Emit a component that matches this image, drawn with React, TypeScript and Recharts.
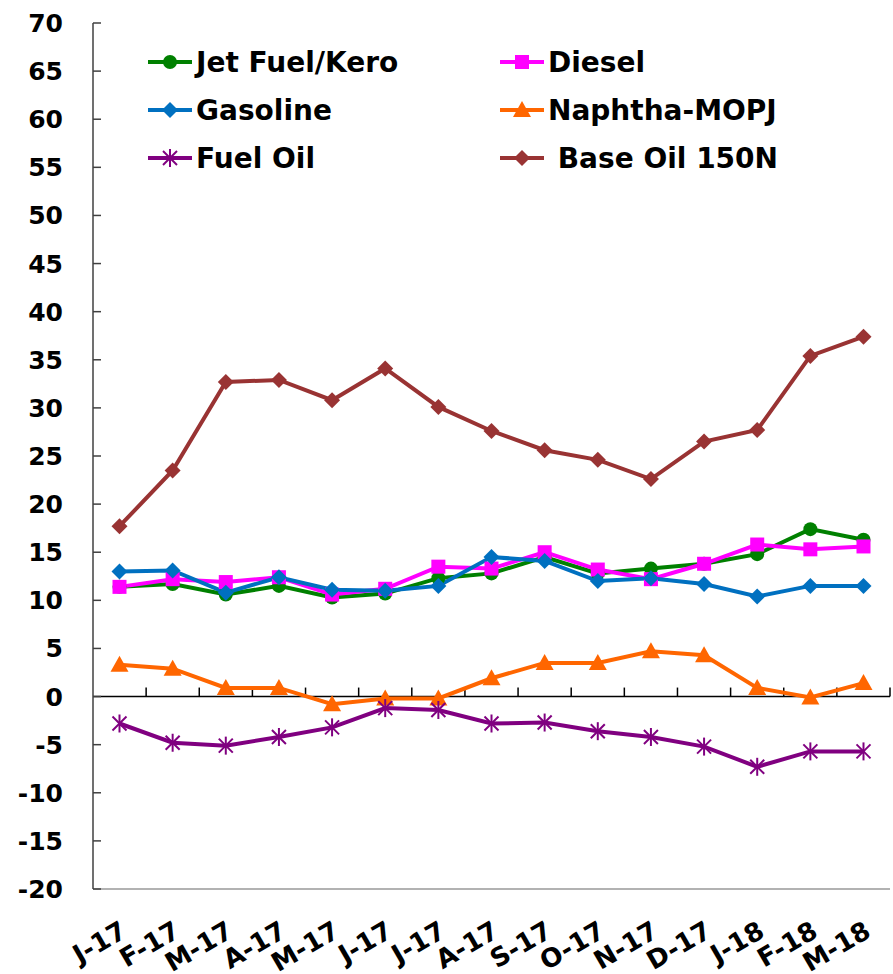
import React from "react";
import { LineChart, Line, XAxis, YAxis, ReferenceLine, Legend } from "recharts";

const months = ["J-17", "F-17", "M-17", "A-17", "M-17", "J-17", "J-17", "A-17", "S-17", "O-17", "N-17", "D-17", "J-18", "F-18", "M-18"];
const jetFuel = [11.4, 11.7, 10.6, 11.5, 10.3, 10.7, 12.3, 12.8, 14.5, 12.8, 13.3, 13.8, 14.8, 17.4, 16.3];
const diesel = [11.4, 12.2, 11.9, 12.4, 10.6, 11.2, 13.5, 13.3, 15.0, 13.2, 12.2, 13.8, 15.8, 15.3, 15.6];
const gasoline = [13.0, 13.1, 10.8, 12.4, 11.1, 11.0, 11.5, 14.5, 14.1, 12.0, 12.3, 11.7, 10.4, 11.5, 11.5];
const naphtha = [3.3, 2.9, 0.9, 0.9, -0.8, -0.2, -0.2, 1.9, 3.5, 3.5, 4.7, 4.3, 0.9, -0.1, 1.4];
const fuelOil = [-2.8, -4.8, -5.1, -4.2, -3.2, -1.2, -1.4, -2.8, -2.7, -3.6, -4.2, -5.2, -7.3, -5.7, -5.7];
const baseOil = [17.7, 23.5, 32.7, 32.9, 30.8, 34.1, 30.1, 27.6, 25.6, 24.6, 22.6, 26.5, 27.7, 35.4, 37.4];
const yTicks = [-20, -15, -10, -5, 0, 5, 10, 15, 20, 25, 30, 35, 40, 45, 50, 55, 60, 65, 70];

const data = months.map((m, i) => ({
  idx: i,
  jet: jetFuel[i],
  diesel: diesel[i],
  gasoline: gasoline[i],
  naphtha: naphtha[i],
  fuelOil: fuelOil[i],
  baseOil: baseOil[i],
}));

const FONT = "'DejaVu Sans', Verdana, sans-serif";

type Kind = "circle" | "square" | "diamond" | "triangle" | "star";

const Marker = ({ kind, cx, cy, color }: { kind: Kind; cx: number; cy: number; color: string }) => {
  if (kind === "circle") return <circle cx={cx} cy={cy} r={7} fill={color} />;
  if (kind === "square") return <rect x={cx - 7} y={cy - 7} width={14} height={14} fill={color} />;
  if (kind === "diamond")
    return <polygon points={`${cx},${cy - 8} ${cx + 8},${cy} ${cx},${cy + 8} ${cx - 8},${cy}`} fill={color} />;
  if (kind === "triangle")
    return <polygon points={`${cx},${cy - 9} ${cx + 9},${cy + 7} ${cx - 9},${cy + 7}`} fill={color} />;
  return (
    <g stroke={color} strokeWidth={2}>
      <line x1={cx - 7} y1={cy - 7} x2={cx + 7} y2={cy + 7} />
      <line x1={cx - 7} y1={cy + 7} x2={cx + 7} y2={cy - 7} />
      <line x1={cx} y1={cy - 9} x2={cx} y2={cy + 9} />
    </g>
  );
};

const series: { key: string; name: string; color: string; kind: Kind }[] = [
  { key: "jet", name: "Jet Fuel/Kero", color: "#008000", kind: "circle" },
  { key: "diesel", name: "Diesel", color: "#FF00FF", kind: "square" },
  { key: "gasoline", name: "Gasoline", color: "#0070C0", kind: "diamond" },
  { key: "naphtha", name: "Naphtha-MOPJ", color: "#FF6600", kind: "triangle" },
  { key: "fuelOil", name: "Fuel Oil", color: "#800080", kind: "star" },
  { key: "baseOil", name: " Base Oil 150N", color: "#993333", kind: "diamond" },
];

const makeDot = (kind: Kind, color: string) => (props: any) => {
  const { cx, cy, index } = props;
  if (cx == null || cy == null) return <g key={index} />;
  return (
    <g key={index}>
      <Marker kind={kind} cx={cx} cy={cy} color={color} />
    </g>
  );
};

const YTick = (props: any) => {
  const { x, y, payload } = props;
  return (
    <g>
      <text x={x} y={y} dy={9} textAnchor="end" fontFamily={FONT} fontWeight="bold" fontSize={25} fill="#000">
        {payload.value}
      </text>
      <line x1={x + 30} y1={y} x2={x + 38} y2={y} stroke="#404040" strokeWidth={1.5} />
    </g>
  );
};

const XTick = (props: any) => {
  const { x, y, payload } = props;
  const tx = x + 9;
  const ty = y + 47;
  return (
    <text
      x={tx}
      y={ty}
      transform={`rotate(-30, ${tx}, ${ty})`}
      textAnchor="end"
      fontFamily={FONT}
      fontWeight="bold"
      fontSize={26}
      fill="#000"
    >
      {months[payload.value]}
    </text>
  );
};

const ZeroLine = (props: any) => {
  const { x1, y1, x2, y2 } = props;
  const n = months.length;
  const step = (x2 - x1) / n;
  return (
    <g>
      <line x1={x1} y1={y1} x2={x2} y2={y2} stroke="#000" strokeWidth={1.5} />
      {months.map((_, k) => (
        <line key={k} x1={x1 + (k + 1) * step} y1={y1} x2={x1 + (k + 1) * step} y2={y1 - 9} stroke="#000" strokeWidth={1.5} />
      ))}
    </g>
  );
};

const LegendContent = () => (
  <svg width={720} height={150}>
    {series.map((s, i) => {
      const col = i % 2;
      const row = Math.floor(i / 2);
      const lx = col * 352 + 8;
      const ly = 27 + row * 48;
      return (
        <g key={s.key}>
          <line x1={lx} y1={ly} x2={lx + 44} y2={ly} stroke={s.color} strokeWidth={4} />
          <Marker kind={s.kind} cx={lx + 22} cy={ly} color={s.color} />
          <text
            x={lx + 48}
            y={ly + 10}
            fontFamily={FONT}
            fontWeight="bold"
            fontSize={28}
            fill="#000"
            style={{ whiteSpace: "pre" }}
          >
            {s.name}
          </text>
        </g>
      );
    })}
  </svg>
);

export default function App() {
  return (
    <div style={{ position: "absolute", left: 0, top: 0, background: "#fff" }}>
      <LineChart width={893} height={974} data={data} margin={{ top: 23, right: 3, bottom: 0, left: 0 }}>
        <XAxis
          dataKey="idx"
          type="category"
          height={85}
          padding={{ left: 26.5, right: 26.5 }}
          axisLine={{ stroke: "#999", strokeWidth: 1.5 }}
          tickLine={false}
          tickSize={0}
          tickMargin={0}
          tick={<XTick />}
          interval={0}
        />
        <XAxis xAxisId="top" dataKey="idx" orientation="top" height={0} tick={false} tickLine={false} axisLine={{ stroke: "#999", strokeWidth: 1.5 }} />
        <YAxis
          domain={[-20, 70]}
          ticks={yTicks}
          width={93}
          interval={0}
          axisLine={{ stroke: "#404040", strokeWidth: 1.5 }}
          tickLine={false}
          tickSize={0}
          tickMargin={30}
          tick={<YTick />}
        />
        <YAxis yAxisId="right" orientation="right" width={0} domain={[-20, 70]} tick={false} tickLine={false} axisLine={{ stroke: "#999", strokeWidth: 1.5 }} />
        <ReferenceLine y={0} shape={<ZeroLine />} />
        {series.map((s) => (
          <Line
            key={s.key}
            dataKey={s.key}
            name={s.name}
            stroke={s.color}
            strokeWidth={4}
            dot={makeDot(s.kind, s.color)}
            activeDot={false}
            isAnimationActive={false}
          />
        ))}
        <Legend
          layout="horizontal"
          verticalAlign="middle"
          align="center"
          wrapperStyle={{ left: 140, top: 35, width: 720, height: 150 }}
          content={<LegendContent />}
        />
      </LineChart>
    </div>
  );
}
